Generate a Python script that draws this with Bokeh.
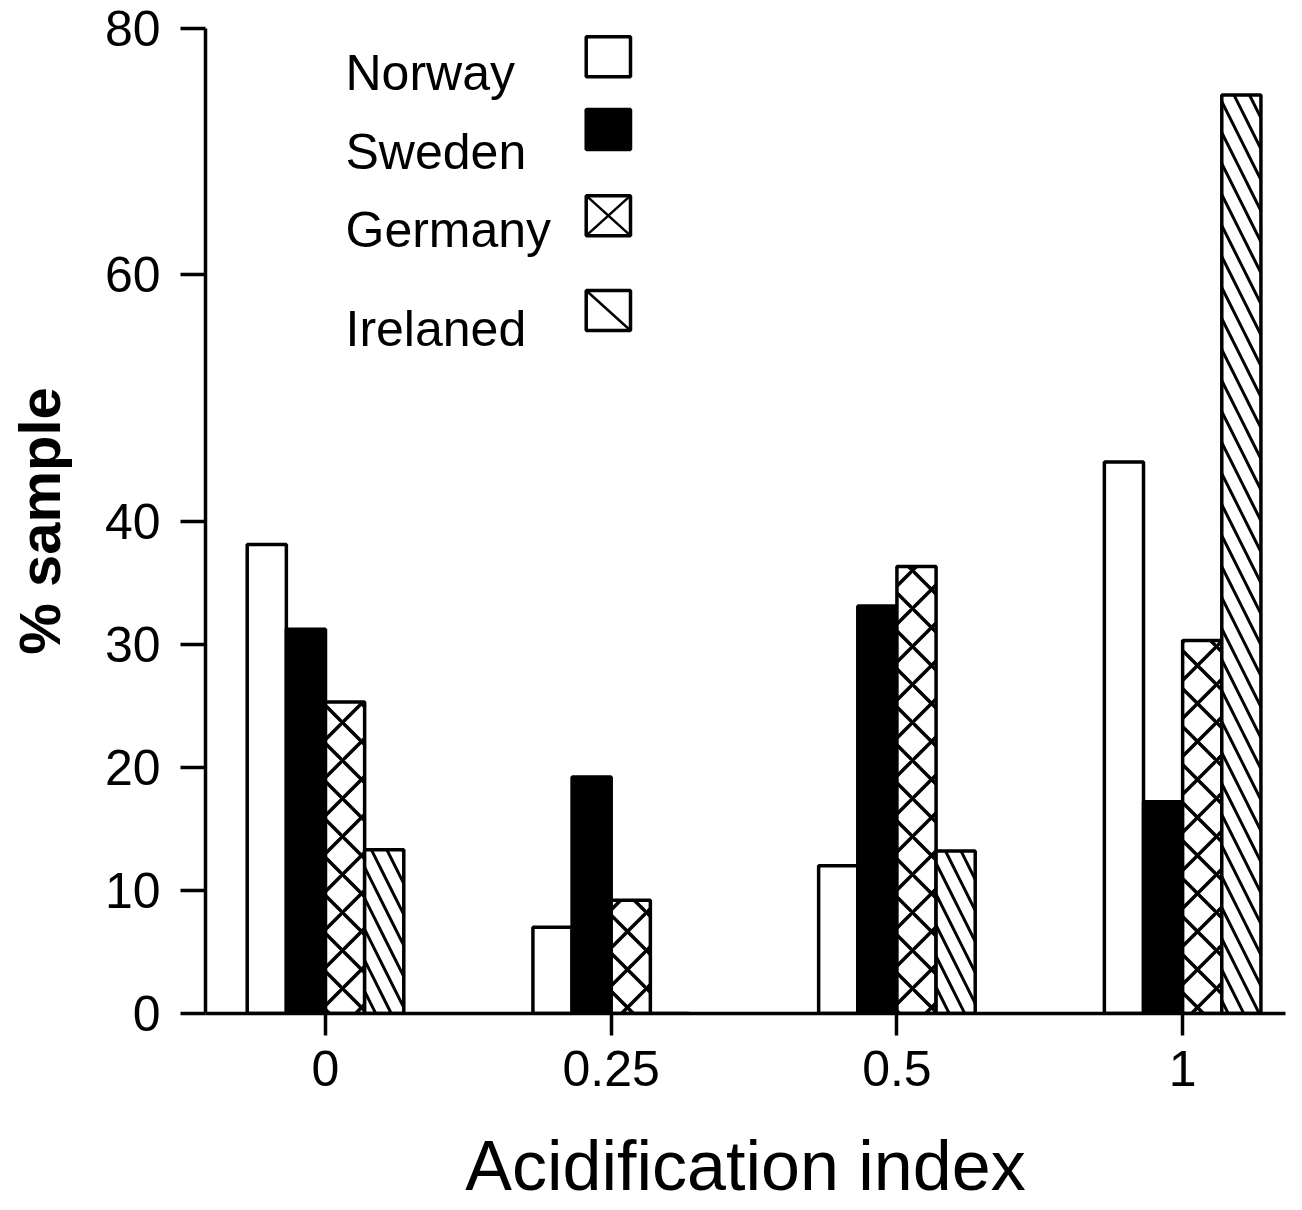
from bokeh.plotting import figure
from bokeh.models import FixedTicker, Range1d, ColumnDataSource
from bokeh.transform import dodge
from bokeh.core.properties import value
from bokeh.embed import file_html
from bokeh.resources import INLINE

# ---- data ----
categories = ["0", "0.25", "0.5", "1"]
countries = ["Norway", "Sweden", "Germany", "Irelaned"]
norway = [38.1, 7.0, 12.0, 44.8]
sweden = [31.2, 19.2, 33.1, 17.2]
germany = [25.3, 9.2, 36.3, 30.3]
ireland = [13.3, 0.0, 13.2, 74.6]
y_ticks = [0, 10, 20, 30, 40, 60, 80]

positions = list(range(len(categories)))
src = ColumnDataSource(dict(pos=positions, Norway=norway, Sweden=sweden,
                            Germany=germany, Irelaned=ireland))

FONT = "Liberation Sans"

p = figure(width=1302, height=1210,
           x_range=Range1d(-0.42, 3.36), y_range=Range1d(0, 80),
           output_backend="svg", toolbar_location=None,
           min_border_left=205, min_border_right=17,
           min_border_top=28, min_border_bottom=197,
           background_fill_color="white", border_fill_color="white")

bar_w = 0.137
styles = [
    dict(fill_color="white"),
    dict(fill_color="black"),
    dict(fill_color="white", hatch_pattern="x", hatch_scale=38, hatch_weight=3.5,
         hatch_color="black"),
    dict(fill_color="white", hatch_pattern="\\", hatch_scale=31, hatch_weight=3,
         hatch_color="black"),
]
for i, (name, st) in enumerate(zip(countries, styles)):
    off = (i - 1.5) * bar_w
    p.vbar(x=dodge("pos", off, range=p.x_range), top=name, bottom=0, width=bar_w,
           source=src, line_color="black", line_width=3.5, **st)

# ---- legend (text on left, swatch on right, as in the reference) ----
leg_text_x = [0.07] * 4
leg_text_y = [76.4, 70.0, 63.6, 55.6]
leg_box_x = [0.99] * 4
leg_box_y = [77.7, 71.8, 64.8, 57.1]
box_w = 0.155   # swatch size in data units (about 44 x 40 px)
box_h = 3.25
p.text(x=leg_text_x, y=leg_text_y, text=countries, text_font=value(FONT),
       text_font_size="50px", text_baseline="alphabetic", text_align="left",
       text_color="black")
leg_fill = ["white", "black", "white", "white"]
p.rect(x=leg_box_x, y=leg_box_y, width=box_w, height=box_h,
       fill_color=leg_fill, line_color="black", line_width=3.5)
# swatch hatching: Germany = X across the box, Ireland = single "\" diagonal
gx, gy = leg_box_x[2], leg_box_y[2]
ix, iy = leg_box_x[3], leg_box_y[3]
p.segment(x0=[gx - box_w / 2, gx - box_w / 2, ix - box_w / 2],
          y0=[gy + box_h / 2, gy - box_h / 2, iy + box_h / 2],
          x1=[gx + box_w / 2, gx + box_w / 2, ix + box_w / 2],
          y1=[gy - box_h / 2, gy + box_h / 2, iy - box_h / 2],
          line_color="black", line_width=2.5)

# ---- axes ----
p.xgrid.visible = False
p.ygrid.visible = False
p.outline_line_color = None

p.xaxis.ticker = FixedTicker(ticks=positions)
p.xaxis.major_label_overrides = {i: c for i, c in enumerate(categories)}
p.yaxis.ticker = FixedTicker(ticks=y_ticks)

for ax in (p.xaxis[0], p.yaxis[0]):
    ax.axis_line_width = 3.5
    ax.axis_line_color = "black"
    ax.major_tick_line_width = 3.5
    ax.major_tick_line_color = "black"
    ax.minor_tick_line_color = None
    ax.major_tick_in = 0
    ax.major_label_text_font = FONT
    ax.major_label_text_font_size = "50px"
    ax.major_label_text_color = "black"
    ax.axis_label_text_font = FONT
    ax.axis_label_text_color = "black"

p.xaxis.major_tick_out = 22
p.xaxis.major_label_standoff = 15
p.xaxis.axis_label = "Acidification index"
p.xaxis.axis_label_text_font_size = "70px"
p.xaxis.axis_label_text_font_style = "normal"
p.xaxis.axis_label_standoff = 38

p.yaxis.major_tick_out = 25
p.yaxis.major_label_standoff = 20
p.yaxis.axis_label = "% sample"
p.yaxis.axis_label_text_font_size = "58px"
p.yaxis.axis_label_text_font_style = "bold"
p.yaxis.axis_label_standoff = 30

open("out.html", "w").write(file_html(p, INLINE))
